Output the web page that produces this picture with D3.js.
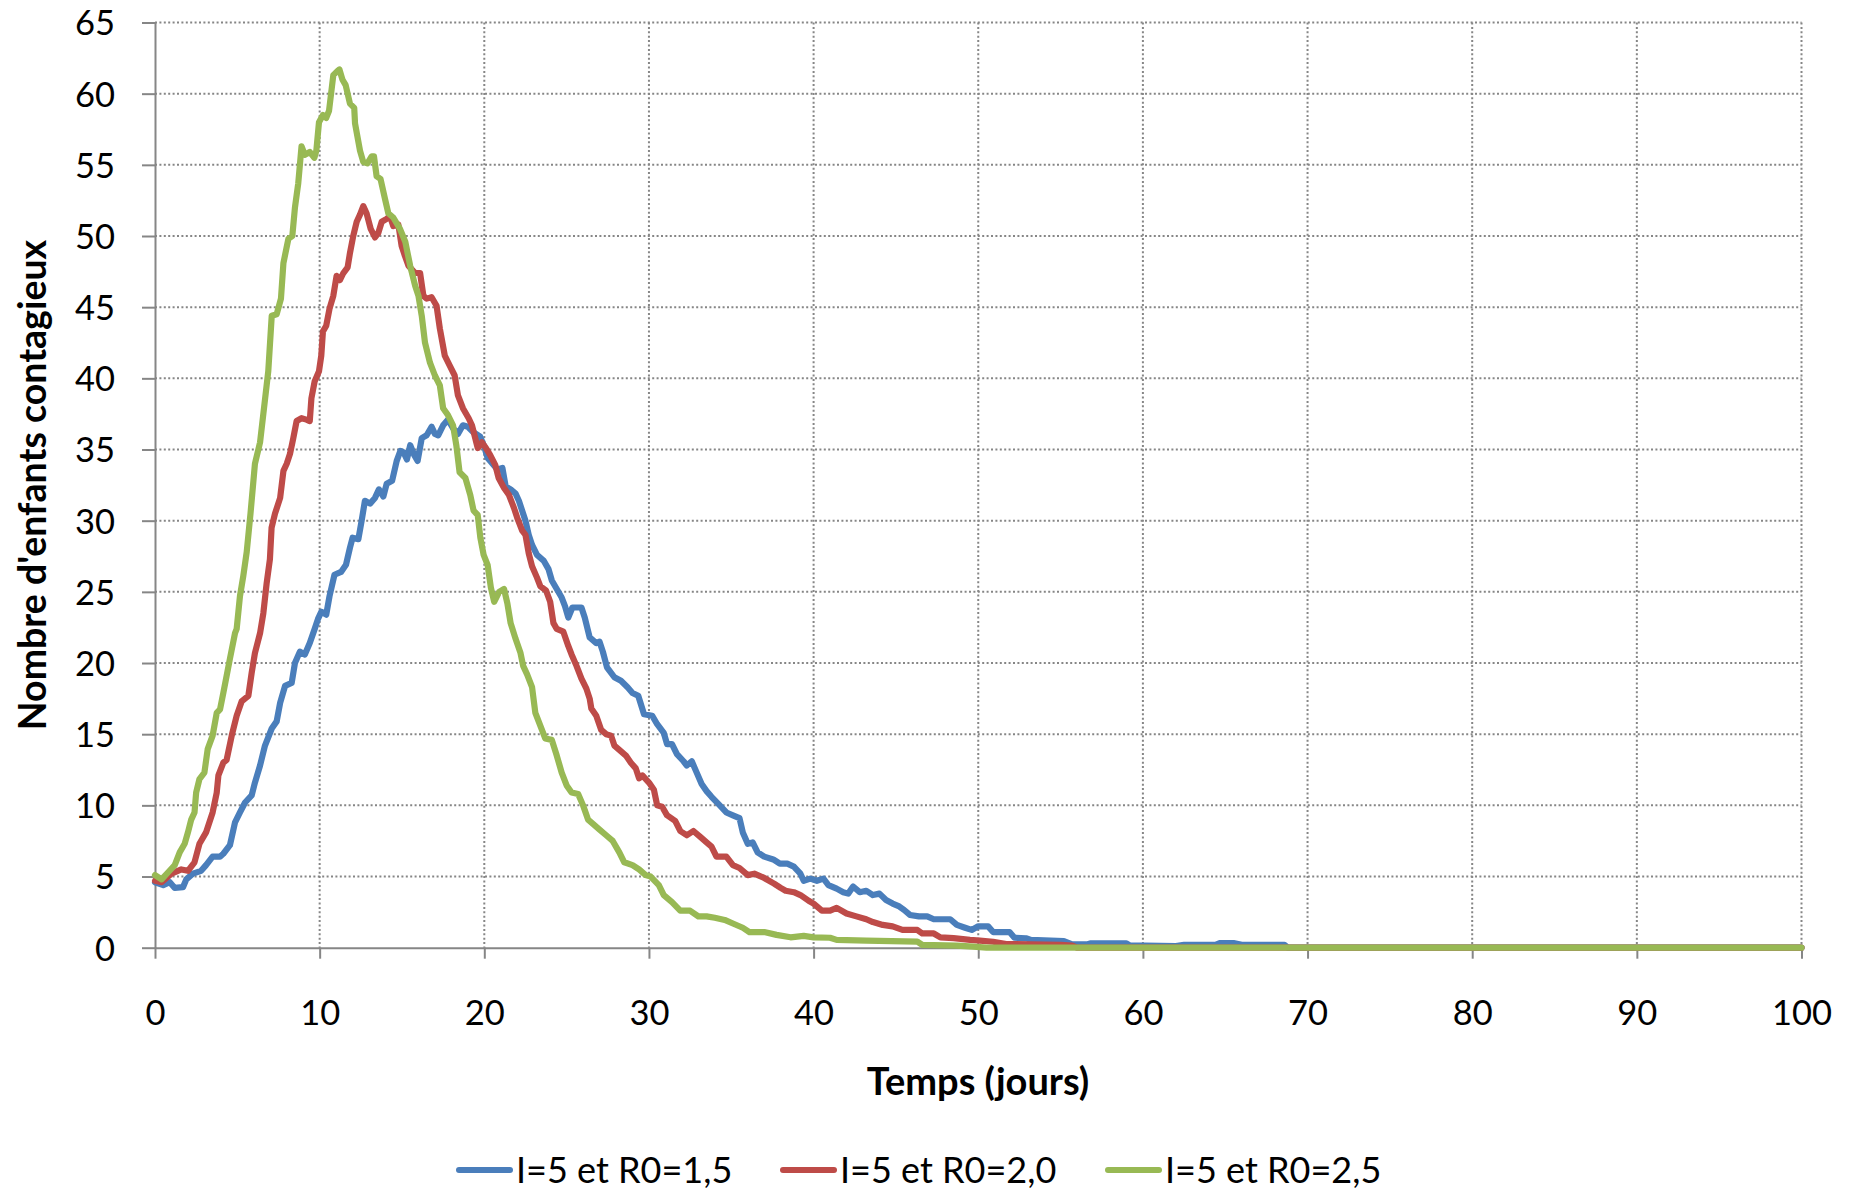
<!DOCTYPE html>
<html>
<head>
<meta charset="utf-8">
<script src="https://d3js.org/d3.v7.min.js"></script>
<style>
	body { margin: 0; background: #fff; }
	text { font-family: Lato, "Open Sans", sans-serif; fill: #000; }
</style>
</head>
<body>
<div id="chart"></div>
<script>
var width = 1854
var height = 1190

var noms = ["I=5 et R0=1,5", "I=5 et R0=2,0", "I=5 et R0=2,5"]
var couleurs = ["#4a7ebb", "#be4b48", "#98b954"]

var xTicks = [0, 10, 20, 30, 40, 50, 60, 70, 80, 90, 100]
var yTicks = [0, 5, 10, 15, 20, 25, 30, 35, 40, 45, 50, 55, 60, 65]

// R0 = 1,5
var jours15 = [0, 0.5, 0.9, 1.2, 1.7, 1.9, 2.3, 2.8, 3.1, 3.5, 3.95, 4.15, 4.55, 4.86, 5.16, 5.47, 5.87, 6.07, 6.38, 6.68,
	7.09, 7.39, 7.6, 7.9, 8.3, 8.5, 8.8, 9.1, 9.4, 9.7, 9.9, 10.1, 10.4, 10.6, 10.9, 11.3, 11.6, 11.84, 12.0, 12.35,
	12.55, 12.75, 13.06, 13.36, 13.6, 13.87, 14.07, 14.4, 14.68, 14.9, 15.1, 15.3, 15.5, 15.75, 15.95, 16.2, 16.5, 16.8, 17.0, 17.2,
	17.5, 17.8, 18.1, 18.4, 18.7, 19.0, 19.35, 19.75, 20.0, 20.2, 20.5, 20.8, 21.1, 21.3, 21.6, 21.9, 22.1, 22.3, 22.5, 22.7,
	22.9, 23.2, 23.6, 23.9, 24.1, 24.4, 24.7, 24.9, 25.1, 25.35, 25.9, 26.1, 26.4, 26.8, 27.0, 27.2, 27.45, 27.9, 28.3, 28.7,
	29.0, 29.35, 29.7, 30.2, 30.5, 30.9, 31.1, 31.4, 31.7, 32.1, 32.3, 32.6, 32.9, 33.2, 33.5, 33.8, 34.3, 34.7, 35.1, 35.5,
	35.7, 36.0, 36.3, 36.6, 37.0, 37.55, 37.95, 38.4, 38.8, 39.2, 39.4, 39.8, 40.2, 40.6, 40.9, 41.4, 41.8, 42.1, 42.4, 42.8,
	43.2, 43.6, 44.0, 44.4, 44.8, 45.2, 45.5, 45.85, 46.4, 46.9, 47.3, 48.3, 48.7, 49.2, 49.6, 50.0, 50.6, 50.9, 51.9, 52.2,
	52.9, 53.2, 55.2, 55.7, 56.6, 56.8, 59.0, 59.2, 62.0, 62.5, 64.4, 64.7, 65.5, 66.0, 68.6, 68.8, 100]
var enfants15 = [4.6, 4.4, 4.6, 4.2, 4.25, 4.8, 5.2, 5.4, 5.8, 6.4, 6.4, 6.6, 7.2, 8.8, 9.5, 10.2, 10.7, 11.6, 12.8, 14.2,
	15.4, 15.9, 17.2, 18.4, 18.6, 20.0, 20.8, 20.6, 21.4, 22.4, 23.1, 23.6, 23.4, 24.7, 26.2, 26.4, 26.9, 28.1, 28.8, 28.7,
	30.0, 31.4, 31.2, 31.6, 32.2, 31.7, 32.6, 32.8, 34.2, 34.9, 34.8, 34.3, 35.3, 34.6, 34.2, 35.8, 36.0, 36.6, 36.1, 36.0,
	36.7, 37.1, 36.5, 36.1, 36.7, 36.6, 36.2, 35.9, 35.2, 34.4, 34.0, 33.6, 33.7, 32.4, 32.2, 31.9, 31.4, 30.7, 30.0, 29.0,
	28.3, 27.6, 27.2, 26.6, 25.8, 25.2, 24.6, 24.0, 23.2, 23.9, 23.9, 23.2, 21.8, 21.4, 21.5, 20.8, 19.7, 19.0, 18.75, 18.3,
	17.9, 17.7, 16.4, 16.3, 15.7, 15.1, 14.3, 14.3, 13.6, 13.1, 12.8, 13.1, 12.3, 11.5, 11.0, 10.6, 10.0, 9.5, 9.3, 9.1,
	8.1, 7.3, 7.4, 6.7, 6.4, 6.2, 5.9, 5.9, 5.7, 5.2, 4.7, 4.85, 4.7, 4.85, 4.4, 4.15, 3.9, 3.8, 4.3, 3.9,
	4.0, 3.7, 3.8, 3.35, 3.1, 2.9, 2.65, 2.3, 2.2, 2.2, 2.0, 2.0, 1.6, 1.4, 1.25, 1.5, 1.5, 1.1, 1.1, 0.7,
	0.66, 0.55, 0.47, 0.23, 0.23, 0.3, 0.3, 0.16, 0.12, 0.2, 0.2, 0.33, 0.33, 0.2, 0.2, 0, 0]

// R0 = 2,0
var jours20 = [0, 0.4, 1.0, 1.6, 2.0, 2.4, 2.7, 3.1, 3.5, 3.75, 3.85, 4.15, 4.35, 4.66, 4.96, 5.26, 5.67, 5.87, 6.07, 6.38,
	6.58, 6.78, 6.98, 7.08, 7.29, 7.6, 7.8, 8.0, 8.2, 8.4, 8.6, 8.9, 9.2, 9.4, 9.5, 9.7, 9.96, 10.1, 10.2, 10.4,
	10.6, 10.83, 11.03, 11.23, 11.44, 11.7, 11.84, 12.04, 12.25, 12.45, 12.65, 12.85, 13.1, 13.36, 13.56, 13.77, 14.07, 14.27, 14.47, 14.78,
	14.98, 15.18, 15.4, 15.8, 16.1, 16.3, 16.5, 16.8, 17.1, 17.3, 17.6, 17.9, 18.2, 18.4, 18.7, 19.05, 19.25, 19.45, 19.6, 19.86,
	20.1, 20.36, 20.67, 20.87, 21.2, 21.5, 21.8, 22.0, 22.3, 22.5, 22.7, 22.9, 23.2, 23.4, 23.75, 24.0, 24.2, 24.4, 24.8, 25.1,
	25.3, 25.6, 25.9, 26.2, 26.4, 26.5, 26.8, 27.1, 27.4, 27.7, 27.9, 28.2, 28.6, 28.9, 29.2, 29.4, 29.6, 30.0, 30.3, 30.5,
	30.8, 31.1, 31.6, 31.9, 32.3, 32.7, 33.1, 33.5, 33.8, 34.1, 34.7, 35.1, 35.5, 36.0, 36.4, 37.0, 37.6, 38.0, 38.3, 38.8,
	39.2, 39.7, 40.0, 40.5, 41.0, 41.4, 42.0, 42.6, 43.2, 43.6, 44.2, 44.8, 45.4, 46.3, 46.6, 47.3, 47.7, 48.5, 49.5, 50.1,
	50.9, 51.7, 55.0, 55.7, 56.0, 100]
var enfants20 = [4.7, 4.6, 5.2, 5.5, 5.4, 6.0, 7.3, 8.1, 9.5, 10.9, 12.1, 13.0, 13.2, 14.9, 16.3, 17.3, 17.7, 19.3, 20.7, 22.1,
	23.5, 25.6, 27.3, 29.5, 30.5, 31.6, 33.5, 34.0, 34.7, 35.8, 37.0, 37.2, 37.1, 37.0, 38.6, 39.8, 40.5, 41.6, 43.3, 43.7,
	44.9, 45.8, 47.2, 46.9, 47.4, 47.8, 48.8, 50.0, 51.0, 51.5, 52.1, 51.6, 50.5, 49.9, 50.2, 51.0, 51.2, 51.4, 50.7, 50.8,
	49.3, 48.6, 47.9, 47.4, 47.4, 45.8, 45.6, 45.7, 45.1, 43.5, 41.6, 40.9, 40.2, 38.8, 37.9, 37.2, 36.7, 35.8, 35.1, 35.5,
	35.1, 34.6, 33.9, 33.0, 32.3, 31.8, 30.9, 30.2, 29.3, 29.0, 27.7, 26.8, 26.0, 25.4, 25.1, 24.3, 22.8, 22.4, 22.2, 21.2,
	20.6, 19.8, 18.9, 18.2, 17.5, 16.8, 16.3, 15.3, 15.0, 14.9, 14.2, 13.9, 13.5, 13.0, 12.6, 11.9, 12.1, 11.6, 11.1, 10.0,
	9.9, 9.3, 8.9, 8.2, 7.9, 8.2, 7.8, 7.4, 7.1, 6.4, 6.4, 5.8, 5.6, 5.1, 5.2, 4.9, 4.5, 4.2, 4.0, 3.9,
	3.7, 3.3, 3.1, 2.6, 2.6, 2.8, 2.4, 2.2, 2.0, 1.8, 1.6, 1.5, 1.25, 1.25, 1.0, 1.0, 0.73, 0.67, 0.55, 0.5,
	0.42, 0.26, 0.2, 0.15, 0, 0]

// R0 = 2,5
var jours25 = [0, 0.4, 0.8, 1.2, 1.5, 1.8, 2.0, 2.2, 2.4, 2.5, 2.7, 3.0, 3.2, 3.5, 3.75, 3.95, 4.15, 4.35, 4.55, 4.86,
	4.96, 5.16, 5.36, 5.57, 5.8, 6.07, 6.38, 6.88, 7.09, 7.39, 7.65, 7.8, 8.1, 8.34, 8.5, 8.7, 8.9, 9.1, 9.4, 9.68,
	9.8, 9.96, 10.2, 10.4, 10.57, 10.83, 11.09, 11.2, 11.38, 11.58, 11.84, 12.1, 12.15, 12.45, 12.65, 12.9, 13.16, 13.3, 13.46, 13.7,
	13.97, 14.17, 14.47, 14.88, 15.2, 15.5, 15.8, 16.0, 16.2, 16.4, 16.7, 17.0, 17.3, 17.5, 17.8, 18.1, 18.3, 18.5, 18.85, 19.15,
	19.35, 19.6, 19.76, 19.96, 20.2, 20.4, 20.6, 20.9, 21.2, 21.4, 21.6, 21.9, 22.2, 22.36, 22.6, 22.9, 23.1, 23.4, 23.7, 24.1,
	24.4, 24.7, 25.0, 25.3, 25.7, 26.0, 26.3, 26.6, 27.0, 27.4, 27.8, 28.2, 28.5, 29.0, 29.4, 29.8, 30.1, 30.6, 30.9, 31.4,
	31.9, 32.5, 33.0, 33.5, 34.0, 34.6, 35.1, 35.7, 36.1, 37.0, 37.75, 38.6, 39.4, 40.0, 41.0, 41.4, 43.2, 46.3, 46.6, 48.7,
	49.7, 50.5, 100]
var enfants25 = [5.1, 4.8, 5.3, 5.8, 6.7, 7.3, 8.1, 9.0, 9.5, 10.9, 11.85, 12.3, 13.95, 14.9, 16.5, 16.75, 17.9, 19.1, 20.3, 22.1,
	22.4, 24.7, 26.1, 27.8, 30.5, 34.0, 35.5, 40.5, 44.4, 44.5, 45.6, 48.1, 49.8, 50.0, 52.0, 53.7, 56.3, 55.7, 55.9, 55.5,
	56.0, 58.0, 58.5, 58.3, 58.8, 61.3, 61.6, 61.7, 61.0, 60.6, 59.3, 59.0, 57.9, 56.0, 55.2, 55.1, 55.6, 55.6, 54.2, 54.0,
	52.6, 51.6, 51.3, 50.5, 49.6, 47.9, 46.5, 45.8, 44.4, 42.5, 41.1, 40.2, 39.5, 37.9, 37.4, 36.7, 35.3, 33.4, 33.0, 31.8,
	30.7, 30.4, 28.8, 27.6, 26.9, 25.3, 24.3, 25.0, 25.2, 24.2, 22.8, 21.7, 20.7, 19.8, 19.2, 18.3, 16.5, 15.6, 14.7, 14.6,
	13.5, 12.3, 11.4, 10.9, 10.8, 10.0, 9.0, 8.7, 8.3, 7.9, 7.5, 6.7, 6.0, 5.8, 5.5, 5.1, 5.0, 4.4, 3.7, 3.2,
	2.6, 2.6, 2.2, 2.2, 2.1, 1.95, 1.7, 1.4, 1.1, 1.1, 0.9, 0.73, 0.83, 0.73, 0.7, 0.55, 0.5, 0.43, 0.2, 0.15,
	0.07, 0, 0]

var series = [
	{ nom: noms[0], couleur: couleurs[0], x: jours15, y: enfants15 },
	{ nom: noms[1], couleur: couleurs[1], x: jours20, y: enfants20 },
	{ nom: noms[2], couleur: couleurs[2], x: jours25, y: enfants25 }
]

var plotLeft = 155
var plotRight = 1801.5
var plotTop = 22.5
var plotBottom = 947.7

var x = d3.scaleLinear().domain([0, 100]).range([plotLeft, plotRight])
var y = d3.scaleLinear().domain([0, 65]).range([plotBottom, plotTop])

var svg = d3.select("#chart")
	.append("svg")
	.attr("width", width)
	.attr("height", height)

// grille pointillee
svg.append("g")
	.selectAll("line")
	.data(yTicks.slice(1))
	.enter()
	.append("line")
	.attr("x1", plotLeft)
	.attr("x2", plotRight)
	.attr("y1", function(d){ return y(d) })
	.attr("y2", function(d){ return y(d) })
	.style("stroke", "#868686")
	.style("stroke-width", 2)
	.style("stroke-dasharray", "2,2.4")

svg.append("g")
	.selectAll("line")
	.data(xTicks.slice(1))
	.enter()
	.append("line")
	.attr("x1", function(d){ return x(d) })
	.attr("x2", function(d){ return x(d) })
	.attr("y1", plotTop)
	.attr("y2", plotBottom)
	.style("stroke", "#868686")
	.style("stroke-width", 2)
	.style("stroke-dasharray", "2,2.4")

// axes
var yAxis = svg.append("g")
	.attr("transform", "translate(" + plotLeft + ",0)")
	.call(d3.axisLeft(y).tickValues(yTicks).tickSize(13).tickPadding(27).tickSizeOuter(0))
yAxis.select(".domain").style("stroke", "#868686").style("stroke-width", 2)
yAxis.selectAll(".tick line").style("stroke", "#868686").style("stroke-width", 2)
yAxis.selectAll("text")
	.style("font-family", "Lato, sans-serif")
	.style("font-size", "34.5px")
	.attr("fill", "#000")
	.attr("dy", "0.36em")

var xAxis = svg.append("g")
	.attr("transform", "translate(0," + plotBottom + ")")
	.call(d3.axisBottom(x).tickValues(xTicks).tickSize(11).tickSizeOuter(0))
xAxis.select(".domain").style("stroke", "#868686").style("stroke-width", 2)
xAxis.selectAll(".tick line").style("stroke", "#868686").style("stroke-width", 2)
xAxis.selectAll("text")
	.style("font-family", "Lato, sans-serif")
	.style("font-size", "34.5px")
	.attr("fill", "#000")
	.attr("y", 77)
	.attr("dy", "0")

// courbes
var line = d3.line()
	.x(function(d){ return x(d[0]) })
	.y(function(d){ return y(d[1]) })

svg.append("g")
	.selectAll("path")
	.data(series)
	.enter()
	.append("path")
	.attr("d", function(s){ return line(d3.zip(s.x, s.y)) })
	.style("fill", "none")
	.style("stroke", function(s){ return s.couleur })
	.style("stroke-width", 6.2)
	.style("stroke-linejoin", "round")
	.style("stroke-linecap", "round")

// titres des axes
svg.append("text")
	.attr("x", 978)
	.attr("y", 1095)
	.attr("text-anchor", "middle")
	.style("font-size", "38px")
	.style("font-weight", "bold")
	.text("Temps (jours)")

svg.append("text")
	.attr("transform", "translate(32,485) rotate(-90)")
	.attr("text-anchor", "middle")
	.attr("dy", "0.36em")
	.style("font-size", "37.5px")
	.style("font-weight", "bold")
	.text("Nombre d'enfants contagieux")

// legende
var legendX = [459, 783, 1108]
var legend = svg.append("g")
	.selectAll("g")
	.data(series)
	.enter()
	.append("g")
	.attr("transform", function(d, i){ return "translate(" + legendX[i] + ",1170)" })

legend.append("line")
	.attr("x1", 0)
	.attr("x2", 51)
	.style("stroke", function(d){ return d.couleur })
	.style("stroke-width", 6)
	.style("stroke-linecap", "round")

legend.append("text")
	.attr("x", 57)
	.attr("y", 12.5)
	.style("font-size", "36px")
	.text(function(d){ return d.nom })
</script>
</body>
</html>
